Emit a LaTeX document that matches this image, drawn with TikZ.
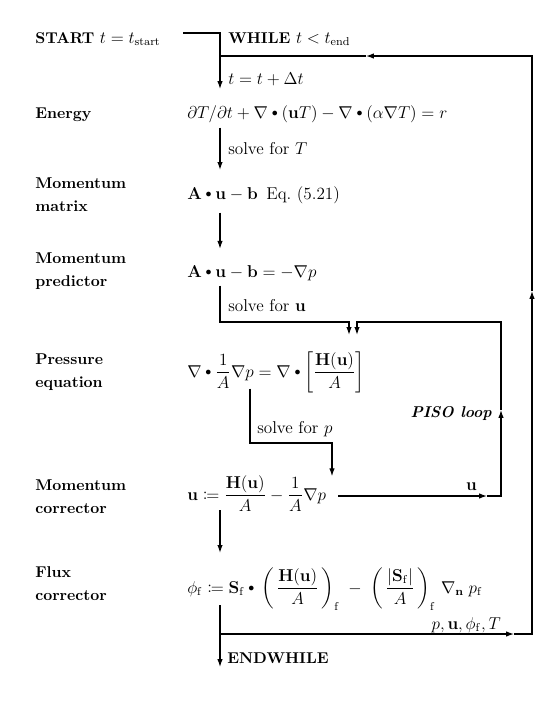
\documentclass[tikz,border=0pt,12pt]{standalone}
\usepackage{amsmath,amssymb,mathtools}
\usepackage{graphicx}
\usetikzlibrary{arrows.meta,calc}

\newcommand{\idot}{\mathbin{\vcenter{\hbox{\scalebox{0.7}{$\bullet$}}}}}

\tikzset{
  flow/.style={line width=0.8pt, -{Latex[length=5.5pt,width=3.8pt]}},
  wire/.style={line width=0.8pt},
  steplabel/.style={anchor=north west, font=\small\bfseries, align=left, inner sep=0pt},
  eqn/.style={anchor=base west, inner sep=0pt},
  note/.style={anchor=base west, inner sep=0pt},
}

\begin{document}
\begin{tikzpicture}[x=0.7pt,y=-0.7pt]
  \useasboundingbox (0,0) rectangle (559,708);

  % Colonne
  \coordinate (spine) at (220,0);
  \coordinate (pcol) at (501,0);
  \coordinate (ocol) at (532,0);

  % Etichette a sinistra
  \node[note] (startlbl) at (35,43) {{\small\bfseries START} $t=t_{\mathrm{start}}$};
  \node[note, font=\small\bfseries] (energylbl) at (35,118) {Energy};
  \node[steplabel] (matrixlbl) at (35,177) {Momentum\\[3pt]matrix};
  \node[steplabel] (predlbl) at (35,252) {Momentum\\[3pt]predictor};
  \node[steplabel] (presslbl) at (35,353) {Pressure\\[3pt]equation};
  \node[steplabel] (corrlbl) at (35,479) {Momentum\\[3pt]corrector};
  \node[steplabel] (fluxlbl) at (35,566) {Flux\\[3pt]corrector};

  % Equazioni
  \node[eqn] (energyeq) at (187,118) {$\partial T/\partial t+\nabla\idot(\mathbf{u}T)-\nabla\idot(\alpha\nabla T)=r$};
  \node[eqn] (matrixeq) at (187,199) {$\mathbf{A}\idot\mathbf{u}-\mathbf{b}$\enspace Eq.~(5.21)};
  \node[eqn] (predeq) at (187,277) {$\mathbf{A}\idot\mathbf{u}-\mathbf{b}=-\nabla p$};
  \node[eqn] (presseq) at (187,377) {$\displaystyle\nabla\idot\frac{1}{A}\nabla p=\nabla\idot\left[\frac{\mathbf{H}(\mathbf{u})}{A}\right]$};
  \node[eqn] (correq) at (187,500) {$\displaystyle\mathbf{u}\coloneqq\frac{\mathbf{H}(\mathbf{u})}{A}-\frac{1}{A}\nabla p$};
  \node[eqn] (fluxeq) at (187,593) {$\displaystyle\phi_{\mathrm{f}}\coloneqq\mathbf{S}_{\mathrm{f}}\idot\,\left(\,\frac{\mathbf{H}(\mathbf{u})}{A}\,\right)_{\mathrm{f}}\;-\;\left(\,\frac{|\mathbf{S}_{\mathrm{f}}|}{A}\,\right)_{\mathrm{f}}\,\nabla_{\mathbf{n}}\;p_{\mathrm{f}}$};

  % Testi sulle frecce
  \node[note] (while) at (228,43) {{\small\bfseries WHILE} $t<t_{\mathrm{end}}$};
  \node[note] (tstep) at (228,84) {$t=t+\Delta t$};
  \node[note] (solveT) at (228,154) {solve for $T$};
  \node[note] (solveu) at (228,311) {solve for $\mathbf{u}$};
  \node[note] (solvep) at (257,433) {solve for $p$};
  \node[note, anchor=base east] (ulbl) at (477,490) {$\mathbf{u}$};
  \node[note, anchor=base east, font=\small\bfseries\itshape] (pisolbl) at (492,417) {PISO loop};
  \node[note, anchor=base east] (fields) at (501,629) {$p,\mathbf{u},\phi_{\mathrm{f}},T$};
  \node[note, font=\small\bfseries] (endwhile) at (227,663) {ENDWHILE};

  % Ciclo temporale
  \coordinate (s0) at (183,33);
  \coordinate (back) at (220,56);
  \coordinate (split) at (220,634);
  \draw[flow] (s0) -- (s0 -| spine) -- ($(tstep.base -| spine)+(0,5)$);
  \draw[flow] (split) -- (514,634);
  \draw[flow] (514,634) -- (split -| ocol) -- (ocol |- 0,291);
  \draw[flow] (ocol |- 0,291) -- (ocol |- back) -- (366,56);
  \draw[wire] (366,56) -- (back);

  % Passi in sequenza
  \draw[flow] ($(energyeq.south -| spine)+(0,5)$) -- ($(matrixeq.north -| spine)+(0,-16)$);
  \draw[flow] ($(matrixeq.south -| spine)+(0,9)$) -- ($(predeq.north -| spine)+(0,-16)$);
  \draw[flow] ($(predeq.south -| spine)+(0,5)$) -- (220,322) -- (349,322) -- ($(presseq.north -| 349,0)+(0,-17)$);
  \draw[flow] ($(presseq.south -| 250,0)+(0,-5)$) -- (250,443) -- (332,443) -- ($(correq.north -| 332,0)+(0,1)$);
  \draw[flow] ($(correq.south -| spine)+(0,-2)$) -- ($(fluxeq.north -| spine)+(0,-15)$);
  \draw[wire] ($(fluxeq.south -| spine)+(0,-5)$) -- (split);
  \draw[flow] (split) -- ($(endwhile.base -| spine)+(0,4)$);

  % Ciclo PISO
  \coordinate (c0) at ($(correq.base east)+(12,-4)$);
  \draw[flow] (c0) -- (487,0 |- c0);
  \draw[flow] (487,0 |- c0) -- (pcol |- c0) -- (pcol |- 0,410);
  \draw[flow] (pcol |- 0,410) -- (pcol |- 0,322) -- (357,322) -- ($(presseq.north -| 357,0)+(0,-17)$);
\end{tikzpicture}
\end{document}
